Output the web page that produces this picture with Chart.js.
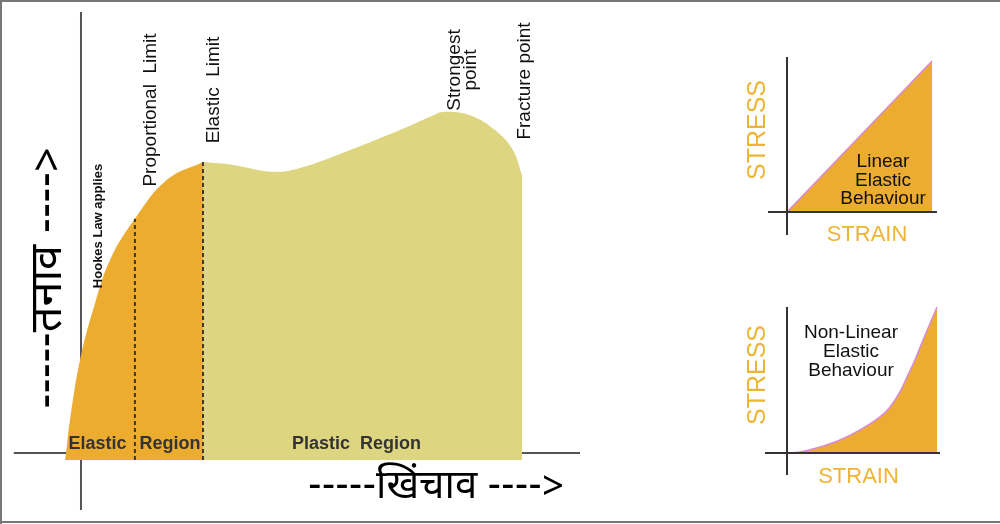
<!DOCTYPE html>
<html><head><meta charset="utf-8">
<script src="https://cdn.jsdelivr.net/npm/chart.js@4.4.1/dist/chart.umd.min.js"></script>
<style>
html,body{margin:0;padding:0;background:#fff;}
#wrap{position:relative;width:1000px;height:524px;overflow:hidden;background:#fff;}
canvas{position:absolute;}
</style></head><body>
<div id="wrap">
<canvas id="main" width="1000" height="524" style="left:0;top:0"></canvas>
<canvas id="lin" width="260" height="230" style="left:730px;top:30px"></canvas>
<canvas id="nonlin" width="260" height="230" style="left:730px;top:280px"></canvas>
</div>
<script>
// ---------- data (strain / stress in relative units, 0..100) ----------
const elasticStrain = [0, 0.22, 1.09, 3.28, 6.13, 9.85, 15.3, 22.3, 30.2];
const elasticStress = [0, 2.0, 11.5, 28.7, 43.1, 57.5, 69.3, 80.5, 85.6];
const plasticStrain = [30.2, 36.8, 45.5, 51.4, 62.4, 73.3, 79.9, 82.7, 88.6, 94.1, 98.0, 100];
const plasticStress = [85.6, 84.8, 82.8, 83.9, 89.1, 94.8, 98.6, 100, 99.1, 94.8, 89.1, 81.9];
const limitStrain = [15.3, 30.2];           // proportional limit, elastic limit
const limitStress = [69.3, 85.6];
const mainAxisXStrain = [-11.2, 112.7];     // horizontal axis line
const mainAxisXStress = [2.0, 2.0];
const mainAxisYStrain = [3.5, 3.5];         // vertical axis line
const mainAxisYStress = [-14.4, 128.7];

const linearStrain = [0, 100];
const linearStress = [0, 100];
const linAxisXStrain = [-13.1, 103.4];
const linAxisYStress = [-15.2, 102.6];

const nonLinearStrain = [0, 8.7, 22, 35.3, 48.7, 62, 68.7, 75.3, 80, 85.3, 90.7, 100];
const nonLinearStress = [0, 0.7, 4.1, 8.9, 15.8, 24.7, 31.5, 41.8, 52, 63.7, 77.4, 100];
const nonLinAxisXStrain = [-14.7, 102];
const nonLinAxisYStress = [-15.1, 100];

const regionLabels = ['Elastic', 'Region', 'Plastic  Region'];
const pointLabels = ['Hookes Law applies', 'Proportional  Limit', 'Elastic  Limit', 'Strongest\npoint', 'Fracture point'];
const axisTitles = ['-----तनाव ---->', '-----खिंचाव ---->'];
const smallAxisTitles = ['STRESS', 'STRAIN'];
const behaviourLabels = ['Linear\nElastic\nBehaviour', 'Non-Linear\nElastic\nBehaviour'];

// ---------- helpers ----------
const zip = (xs, ys) => xs.map((x, i) => ({x, y: ys[i]}));
function range(px0, px100, c0, c1) {
  const k = (px100 - px0) / 100;
  const a = (c0 - px0) / k, b = (c1 - px0) / k;
  return {min: Math.min(a, b), max: Math.max(a, b)};
}
const ORANGE = '#ECAC2F', KHAKI = '#DDD57F', TXT_ORANGE = '#EDB535';
const SANS = '"Liberation Sans", Arial, sans-serif';
const HINDI = '"Noto Sans Devanagari", "Lohit Devanagari", "Noto Sans", "FreeSans", sans-serif';
const R = -Math.PI / 2;

const textPlugin = {
  id: 'texts',
  afterDatasetsDraw(chart, args, opts) {
    const ctx = chart.ctx;
    const ox = opts.ox || 0, oy = opts.oy || 0;
    if (opts.border) {
      ctx.save();
      ctx.fillStyle = '#777';
      ctx.fillRect(0, 0, 1000, 2);
      ctx.fillRect(0, 0, 2, 524);
      ctx.fillRect(0, 521, 1000, 2);
      ctx.restore();
    }
    (opts.items || []).forEach(t => {
      ctx.save();
      ctx.translate(t.x - ox, t.y - oy);
      if (t.rot) ctx.rotate(t.rot);
      ctx.font = t.font;
      ctx.fillStyle = t.color;
      ctx.textAlign = 'center';
      ctx.textBaseline = 'middle';
      const lines = String(t.text).split('\n');
      const lh = t.lh || 20;
      lines.forEach((ln, i) => ctx.fillText(ln, 0, (i - (lines.length - 1) / 2) * lh));
      ctx.restore();
    });
  }
};

function hidden(r) { return Object.assign({type: 'linear', display: false}, r); }
function baseOptions(xr, yr, texts) {
  return {
    responsive: false, animation: false, devicePixelRatio: 1,
    layout: {padding: 0},
    elements: {point: {radius: 0, hoverRadius: 0}},
    events: [],
    scales: {x: hidden(xr), y: hidden(yr)},
    plugins: {legend: {display: false}, tooltip: {enabled: false}, texts: texts}
  };
}
function lineDs(data, opts) {
  return Object.assign({data, showLine: true, pointRadius: 0, fill: false, borderWidth: 0, borderColor: 'rgba(0,0,0,0)'}, opts);
}

// ---------- main chart ----------
const mainTexts = {
  border: true,
  items: [
    {text: regionLabels[0], x: 97.5, y: 444, font: 'bold 18px ' + SANS, color: '#333'},
    {text: regionLabels[1], x: 170, y: 444, font: 'bold 18px ' + SANS, color: '#333'},
    {text: regionLabels[2], x: 356.5, y: 444, font: 'bold 18px ' + SANS, color: '#333'},
    {text: pointLabels[0], x: 98, y: 226, rot: R, font: 'bold 13px ' + SANS, color: '#111'},
    {text: pointLabels[1], x: 151, y: 110, rot: R, font: '19px ' + SANS, color: '#111'},
    {text: pointLabels[2], x: 214, y: 90, rot: R, font: '19px ' + SANS, color: '#111'},
    {text: pointLabels[3], x: 463, y: 70, rot: R, font: '19px ' + SANS, color: '#111', lh: 16},
    {text: pointLabels[4], x: 525, y: 81, rot: R, font: '19px ' + SANS, color: '#111'},
    {text: axisTitles[0], x: 53, y: 278, rot: R, font: '45px ' + HINDI, color: '#000'},
    {text: axisTitles[1], x: 436, y: 491, font: '40px ' + HINDI, color: '#000'}
  ]
};
new Chart(document.getElementById('main'), {
  type: 'scatter',
  plugins: [textPlugin],
  data: {datasets: [
    lineDs(zip([limitStrain[0], limitStrain[0]], [0, limitStress[0]]), {order: 0, borderWidth: 2, borderColor: '#3a3a3a', borderDash: [4, 3]}),
    lineDs(zip([limitStrain[1], limitStrain[1]], [0, limitStress[1]]), {order: 0, borderWidth: 2, borderColor: '#3a3a3a', borderDash: [4, 3]}),
    lineDs(zip(elasticStrain, elasticStress), {order: 1, fill: 'origin', backgroundColor: ORANGE, tension: 0.4}),
    lineDs(zip(plasticStrain, plasticStress), {order: 2, fill: 'origin', backgroundColor: KHAKI, tension: 0.4}),
    lineDs(zip(mainAxisXStrain, mainAxisXStress), {order: 3, borderWidth: 2, borderColor: '#555'}),
    lineDs(zip(mainAxisYStrain, mainAxisYStress), {order: 3, borderWidth: 2, borderColor: '#555'})
  ]},
  options: baseOptions(range(65, 522, 0, 1000), range(460, 112, 0, 524), mainTexts)
});

// ---------- linear elastic chart ----------
new Chart(document.getElementById('lin'), {
  type: 'scatter',
  plugins: [textPlugin],
  data: {datasets: [
    lineDs(zip(linAxisXStrain, [0, 0]), {order: 0, borderWidth: 2, borderColor: '#333'}),
    lineDs(zip([0, 0], linAxisYStress), {order: 0, borderWidth: 2, borderColor: '#333'}),
    lineDs(zip(linearStrain, linearStress), {order: 1, fill: 'origin', backgroundColor: ORANGE, borderWidth: 1.5, borderColor: '#D98BD3'})
  ]},
  options: baseOptions(range(787, 932, 730, 990), range(212, 61, 30, 260), {
    ox: 730, oy: 30,
    items: [
      {text: smallAxisTitles[0], x: 758, y: 130, rot: R, font: '25px ' + SANS, color: TXT_ORANGE},
      {text: smallAxisTitles[1], x: 867, y: 235, font: '22px ' + SANS, color: TXT_ORANGE},
      {text: behaviourLabels[0], x: 883, y: 180.5, font: '19px ' + SANS, color: '#111', lh: 18.5}
    ]
  })
});

// ---------- non-linear elastic chart ----------
new Chart(document.getElementById('nonlin'), {
  type: 'scatter',
  plugins: [textPlugin],
  data: {datasets: [
    lineDs(zip(nonLinAxisXStrain, [0, 0]), {order: 0, borderWidth: 2, borderColor: '#333'}),
    lineDs(zip([0, 0], nonLinAxisYStress), {order: 0, borderWidth: 2, borderColor: '#333'}),
    lineDs(zip(nonLinearStrain, nonLinearStress), {order: 1, fill: 'origin', backgroundColor: ORANGE, borderWidth: 1.5, borderColor: '#D98BD3', tension: 0.4})
  ]},
  options: baseOptions(range(787, 937, 730, 990), range(453, 307, 280, 510), {
    ox: 730, oy: 280,
    items: [
      {text: smallAxisTitles[0], x: 758, y: 375, rot: R, font: '25px ' + SANS, color: TXT_ORANGE},
      {text: smallAxisTitles[1], x: 858.5, y: 477, font: '22px ' + SANS, color: TXT_ORANGE},
      {text: behaviourLabels[1], x: 851, y: 352, font: '19px ' + SANS, color: '#111', lh: 19}
    ]
  })
});
</script>
</body></html>
